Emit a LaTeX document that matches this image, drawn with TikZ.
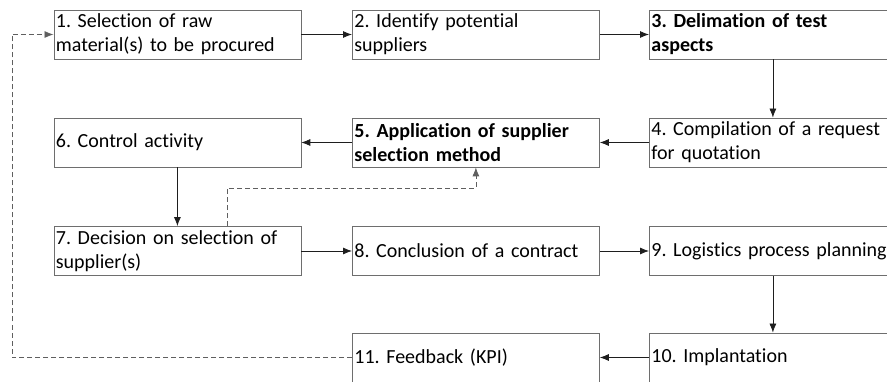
\documentclass[tikz,border=0pt]{standalone}
\usepackage{fontspec}
\setmainfont{Carlito}[Ligatures=NoCommon]
\usetikzlibrary{arrows.meta}
\definecolor{boxgray}{RGB}{110,110,110}
\definecolor{dashgray}{RGB}{95,95,95}
\definecolor{arrowgray}{RGB}{30,30,30}
\frenchspacing

\begin{document}
\begin{tikzpicture}[x=1pt, y=-1pt,
    every node/.style={font=\fontsize{20}{24}\selectfont},
    stepbox/.style={draw=boxgray, line width=0.8pt, anchor=west, minimum width=247pt,
      minimum height=49pt, text width=243pt, inner xsep=2pt, inner ysep=1pt, align=left},
    flow/.style={draw=arrowgray, line width=0.8pt, -{Latex[length=9pt,width=7pt]}},
    back/.style={flow, draw=dashgray, dash pattern=on 5pt off 3pt}]
    \useasboundingbox (0,0) rectangle (887,382);
    \clip (0,0) rectangle (887,382);
    % row 1
    \node[stepbox] (s1) at (53.5,34.5) {1. Selection of raw\\material(s) to be procured};
    \node[stepbox] (s2) at (352,34.5) {2. Identify potential\\suppliers};
    \node[stepbox] (s3) at (649,34.5) {\textbf{3. Delimation of test}\\\textbf{aspects}};
    % row 2
    \node[stepbox] (s6) at (53.5,142.5) {6. Control activity};
    \node[stepbox] (s5) at (352,142.5) {\textbf{5. Application of supplier}\\\textbf{selection method}};
    \node[stepbox] (s4) at (649,142.5) {\mbox{4. Compilation of a request}\\for quotation};
    % row 3
    \node[stepbox] (s7) at (53.5,251) {\mbox{7. Decision on selection of}\\supplier(s)};
    \node[stepbox] (s8) at (352,251) {8. Conclusion of a contract};
    \node[stepbox] (s9) at (649,251) {\mbox{9. Logistics process planning}};
    % row 4
    \node[stepbox] (s11) at (352,357.5) {11. Feedback (KPI)};
    \node[stepbox] (s10) at (649,357.5) {10. Implantation};

    \draw[flow] (s1) -- (s2);
    \draw[flow] (s2) -- (s3);
    \draw[flow] (s3) -- (s4);
    \draw[flow] (s4) -- (s5);
    \draw[flow] (s5) -- (s6);
    \draw[flow] (s6) -- (s7);
    \draw[flow] (s7) -- (s8);
    \draw[flow] (s8) -- (s9);
    \draw[flow] (s9) -- (s10);
    \draw[flow] (s10) -- (s11);
    % feedback loops
    \draw[back] ([xshift=50pt]s7.north) -- ++(0,-38) -| (s5.south);
    \draw[back] (s11.west) -| ([xshift=-41.5pt]s1.west) -- (s1.west);
\end{tikzpicture}
\end{document}
